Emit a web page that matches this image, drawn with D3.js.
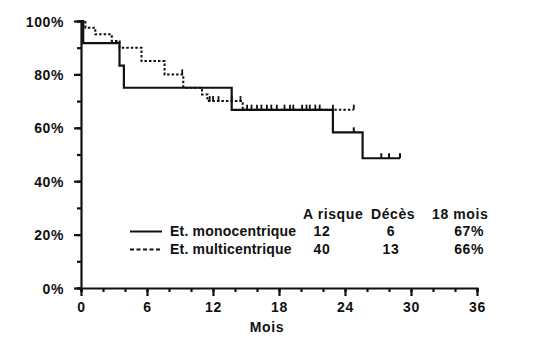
<!DOCTYPE html>
<html>
<head>
<meta charset="utf-8">
<script src="https://cdn.jsdelivr.net/npm/d3@7"></script>
<style>
  body { margin: 0; background: #fff; }
  svg text { font-family: "Liberation Sans", Arial, sans-serif; font-weight: bold; fill: #111; letter-spacing: 0.6px; }
</style>
</head>
<body>
<svg id="chart" width="541" height="354"></svg>
<script>
// Kaplan-Meier steps, months / survival %
const monoTimes = [0, 0.2, 3.5, 3.9, 13.7, 22.9, 25.6];
const monoSurv = [100, 91.7, 83.3, 75, 66.7, 58.3, 48.6];
const monoEnd = 29;
const monoCensor = [24.8, 27.3, 28, 29];

const multiTimes = [0, 0.4, 1.3, 2.8, 3.5, 5.5, 7.6, 9.3, 11.0, 11.5, 14.7];
const multiSurv = [100, 97.5, 95, 92.5, 90, 85, 80, 75, 72.5, 70, 66.8];
const multiEnd = 24.8;
const multiCensor = [9.2, 11.7, 12, 12.5, 13.7, 14.5, 15.1, 15.5, 16, 16.4, 16.9, 17.3, 17.8,
  18.5, 19, 19.3, 20.1, 20.5, 20.8, 21.3, 21.7, 22.9, 24.8];

const xTicks = [0, 6, 12, 18, 24, 30, 36];
const yTicks = [0, 20, 40, 60, 80, 100];

const seriesNames = ["Et. monocentrique", "Et. multicentrique"];
const tableHeader = ["A risque", "Décès", "18 mois"];
const atRisk = [12, 40];
const deaths = [6, 13];
const at18 = ["67%", "66%"];

const svg = d3.select("#chart");
const x = d3.scaleLinear().domain([0, 36]).range([81, 477]);
const y = d3.scaleLinear().domain([0, 100]).range([288, 21]);

// axes
const xAxisMinor = d3.axisBottom(x).tickValues(d3.range(0, 37, 2)).tickSize(4).tickFormat("");
const xAxis = d3.axisBottom(x).tickValues(xTicks).tickSize(8).tickPadding(6).tickFormat(d => d);
const yAxisMinor = d3.axisLeft(y).tickValues(d3.range(0, 101, 10)).tickSize(4).tickFormat("");
const yAxis = d3.axisLeft(y).tickValues(yTicks).tickSize(7).tickPadding(10).tickFormat(d => d + "%");

function styleAxis(g) {
  g.selectAll("path.domain").attr("stroke", "#111").attr("stroke-width", 2.2);
  g.selectAll(".tick line").attr("stroke", "#111").attr("stroke-width", 2.2);
  g.selectAll(".tick text").attr("font-size", 14).attr("font-family", "Liberation Sans, Arial")
    .attr("font-weight", "bold").attr("fill", "#111");
}
svg.append("g").attr("transform", "translate(0,288)").call(xAxisMinor).call(styleAxis);
svg.append("g").attr("transform", "translate(0,288)").call(xAxis).call(styleAxis)
  .call(g => g.select(".domain").remove());
svg.append("g").attr("transform", "translate(81,0)").call(yAxisMinor).call(styleAxis);
svg.append("g").attr("transform", "translate(81,0)").call(yAxis).call(styleAxis)
  .call(g => g.select(".domain").remove())
  .call(g => g.selectAll(".tick text").attr("dy", "0.36em"));

svg.append("text").attr("x", 267).attr("y", 332).attr("text-anchor", "middle")
  .attr("font-size", 14).text("Mois");

// curves
const line = d3.line().x(d => x(d[0])).y(d => y(d[1])).curve(d3.curveStepAfter);
function stepData(times, surv, end) {
  const pts = times.map((t, i) => [t, surv[i]]);
  pts.push([end, surv[surv.length - 1]]);
  return pts;
}
function survAt(times, surv, t) {
  let s = surv[0];
  times.forEach((tt, i) => { if (tt <= t) s = surv[i]; });
  return s;
}

svg.append("path").datum(stepData(multiTimes, multiSurv, multiEnd))
  .attr("fill", "none").attr("stroke", "#111").attr("stroke-width", 2)
  .attr("stroke-dasharray", "2.5,2").attr("d", line);
svg.append("g").selectAll("line").data(multiCensor).join("line")
  .attr("x1", d => x(d)).attr("x2", d => x(d))
  .attr("y1", d => y(survAt(multiTimes, multiSurv, d)))
  .attr("y2", d => y(survAt(multiTimes, multiSurv, d)) - 5)
  .attr("stroke", "#111").attr("stroke-width", 1.8);

svg.append("path").datum(stepData(monoTimes, monoSurv, monoEnd))
  .attr("fill", "none").attr("stroke", "#111").attr("stroke-width", 2.2).attr("d", line);
svg.append("g").selectAll("line").data(monoCensor).join("line")
  .attr("x1", d => x(d)).attr("x2", d => x(d))
  .attr("y1", d => y(survAt(monoTimes, monoSurv, d)))
  .attr("y2", d => y(survAt(monoTimes, monoSurv, d)) - 5)
  .attr("stroke", "#111").attr("stroke-width", 2);

// legend + table
const rowsY = [236, 254];
const leg = svg.append("g");
leg.selectAll("line").data(rowsY).join("line")
  .attr("x1", 130).attr("x2", 162)
  .attr("y1", d => d - 4.5).attr("y2", d => d - 4.5)
  .attr("stroke", "#111").attr("stroke-width", 2)
  .attr("stroke-dasharray", (d, i) => i ? "4,2.5" : null);
leg.selectAll("text.name").data(seriesNames).join("text").attr("class", "name")
  .attr("x", 170).attr("y", (d, i) => rowsY[i]).attr("font-size", 14)
  .style("letter-spacing", "0.2px").text(d => d);

const headX = [303, 371, 432];
leg.selectAll("text.head").data(tableHeader).join("text").attr("class", "head")
  .attr("x", (d, i) => headX[i]).attr("y", 219).attr("font-size", 14).text(d => d);
leg.selectAll("text.risk").data(atRisk).join("text").attr("class", "risk")
  .attr("x", 322).attr("y", (d, i) => rowsY[i]).attr("text-anchor", "middle")
  .attr("font-size", 14).text(d => d);
leg.selectAll("text.dc").data(deaths).join("text").attr("class", "dc")
  .attr("x", 391).attr("y", (d, i) => rowsY[i]).attr("text-anchor", "middle")
  .attr("font-size", 14).text(d => d);
leg.selectAll("text.p18").data(at18).join("text").attr("class", "p18")
  .attr("x", 484).attr("y", (d, i) => rowsY[i]).attr("text-anchor", "end")
  .attr("font-size", 14).text(d => d);
</script>
</body>
</html>
